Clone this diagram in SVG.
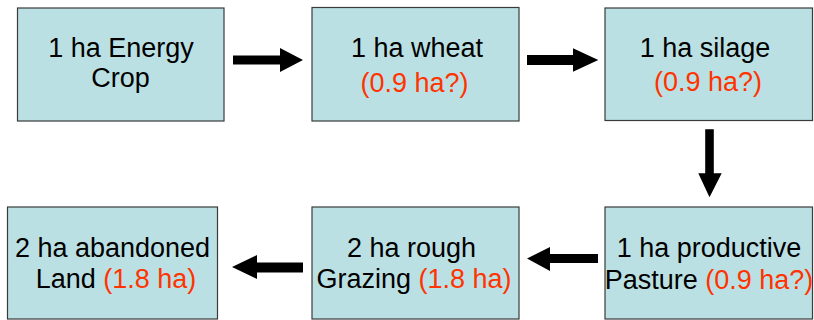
<svg xmlns="http://www.w3.org/2000/svg" width="814" height="320" viewBox="0 0 814 320">
<style>
.box{fill:#BBE0E3;stroke:#3a3a3a;stroke-width:1.2}
.t{font-family:"Liberation Sans",Arial,sans-serif;font-size:27px;fill:#000;text-anchor:middle}
.r{fill:#FF3300}
.arr{fill:#000}
</style>
<rect width="814" height="320" fill="#fff"/>
<g id="n1">
<rect class="box" x="17.5" y="8" width="206.5" height="113"/>
<text class="t" x="121" y="56.7">1 ha Energy</text>
<text class="t" x="120.5" y="86.7">Crop</text>
</g>
<g id="n2">
<rect class="box" x="312" y="7.5" width="207" height="113.5"/>
<text class="t" x="417" y="56.7">1 ha wheat</text>
<text class="t r" x="414.5" y="91.7">(0.9 ha?)</text>
</g>
<g id="n3">
<rect class="box" x="605" y="8" width="207.5" height="112.5"/>
<text class="t" x="705" y="57.3">1 ha silage</text>
<text class="t r" x="708" y="91">(0.9 ha?)</text>
</g>
<g id="n4">
<rect class="box" x="605" y="207" width="207.5" height="112"/>
<text class="t" x="709" y="257.3">1 ha productive</text>
<text class="t" x="709" y="289.3">Pasture <tspan class="r">(0.9 ha?)</tspan></text>
</g>
<g id="n5">
<rect class="box" x="312" y="207" width="207" height="112"/>
<text class="t" x="411.5" y="256.7">2 ha rough</text>
<text class="t" x="414" y="288.3">Grazing <tspan class="r">(1.8 ha)</tspan></text>
</g>
<g id="n6">
<rect class="box" x="7.5" y="207" width="210" height="112"/>
<text class="t" x="112.5" y="256.7">2 ha abandoned</text>
<text class="t" x="116" y="288.3">Land <tspan class="r">(1.8 ha)</tspan></text>
</g>
<g id="connectors">
<polygon class="arr" points="233,55.5 280,55.5 280,48 303,60 280,72 280,64.5 233,64.5"/>
<polygon class="arr" points="527,55 573,55 573,48.3 598.3,60 573,71.7 573,65 527,65"/>
<polygon class="arr" points="705.2,129.3 713.8,129.3 713.8,173.3 721.7,173.3 709.5,197.3 698.3,173.3 705.2,173.3"/>
<polygon class="arr" points="598,254 550,254 550,247 527,258.5 550,271 550,263 598,263"/>
<polygon class="arr" points="303,262.5 257,262.5 257,255 232,267 257,279 257,272.5 303,272.5"/>
</g>
</svg>
